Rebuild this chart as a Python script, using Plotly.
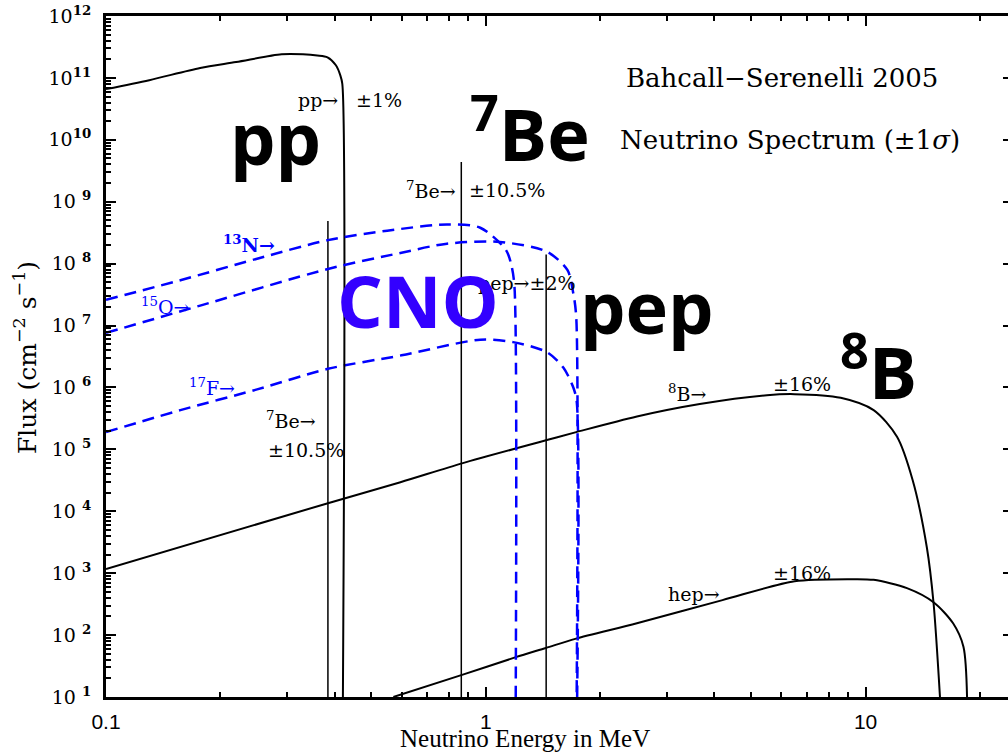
import plotly.graph_objects as go

# Solar neutrino spectra (BS05). Continuum sources in cm^-2 s^-1 MeV^-1,
# line sources in cm^-2 s^-1. Energies in MeV.
pp_energy = [0.1, 0.13, 0.177, 0.22, 0.29, 0.33, 0.36, 0.383, 0.403, 0.414, 0.419, 0.4205]
pp_flux = [6.6e10, 9.2e10, 1.45e11, 1.8e11, 2.4e11, 2.4e11, 2.3e11, 2.15e11, 1.6e11, 1.1e11, 8e10, 10]

n13_energy = [0.1, 0.157, 0.25, 0.384, 0.55, 0.79, 0.967, 1.13, 1.17, 1.19, 1.199]
n13_flux = [2.6e7, 5.4e7, 1.2e8, 2.4e8, 3.4e8, 4.3e8, 3.8e8, 1.66e8, 9e7, 4.2e7, 10]

o15_energy = [0.1, 0.177, 0.384, 0.6, 0.79, 1.09, 1.45, 1.64, 1.70, 1.73, 1.735]
o15_flux = [7.6e6, 2.1e7, 8.2e7, 1.5e8, 2.1e8, 2.24e8, 1.55e8, 7.9e7, 3.3e7, 1.4e7, 10]

f17_energy = [0.1, 0.157, 0.25, 0.384, 0.6, 0.967, 1.18, 1.45, 1.6, 1.70, 1.735, 1.74]
f17_flux = [1.9e5, 4.3e5, 9.3e5, 2.0e6, 3.3e6, 5.9e6, 5.4e6, 3.7e6, 2.1e6, 1.0e6, 6e5, 10]

b8_energy = [0.1, 0.384, 0.596, 0.87, 1.44, 1.73, 2.5, 3.66, 5.5, 6.5, 8.6, 10.5, 12.1, 13.3, 14.5, 15.1, 15.7]
b8_flux = [1.17e3, 1.35e4, 2.95e4, 6.0e4, 1.4e5, 1.9e5, 3.4e5, 5.4e5, 7.5e5, 7.8e5, 6.8e5, 4.3e5, 1.6e5, 3.2e4, 2.6e3, 330, 10]

hep_energy = [0.571, 0.87, 1.2, 1.44, 1.72, 2.5, 4.2, 6.5, 9.3, 10.5, 12.85, 15.1, 17.0, 18.1, 18.5]
hep_flux = [10, 23, 44, 62, 87, 155, 367, 740, 800, 780, 575, 340, 155, 65, 10]

# monoenergetic lines: 7Be (0.384, 0.862) and pep (1.442)
line_energy = [0.384, 0.862, 1.442]
line_flux = [4.9e8, 4.4e9, 1.4e8]
floor_flux = 10

y_exponents = list(range(1, 13))
x_tick_values = [0.1, 1, 10]
x_tick_labels = ["0.1", "1", "10"]

BLUE = "#0000ff"
BLACK = "#000000"
SERIF = "DejaVu Serif"
BOLD_SANS = "Open Sans"

# plot-area geometry (pixels) used to place text labels
L, R, T, B = 106, 1008, 16, 697
X_RANGE = [-1, 1.375]
Y_RANGE = [1, 12]


def at(px, py):
    return (px - L) / (R - L), (B - py) / (B - T)


fig = go.Figure()

solid = dict(color=BLACK, width=2)
dashed = dict(color=BLUE, width=2.5, dash="12px,7px")
smooth = dict(shape="spline", smoothing=0.8)

# All axes share identical ranges; the overlay axes only carry tick marks,
# so each curve may sit on whichever overlay pair keeps those axes alive.
line_axes = [("x", "y"), ("x2", "y"), ("x3", "y")]
for (e, f), (xa, ya) in zip(zip(line_energy, line_flux), line_axes):
    fig.add_trace(go.Scatter(x=[e, e], y=[f, floor_flux], mode="lines", xaxis=xa, yaxis=ya,
                             line=dict(color=BLACK, width=1.5)))

cno = [(n13_energy, n13_flux, "x4", "y"), (o15_energy, o15_flux, "x5", "y"),
       (f17_energy, f17_flux, "x", "y2")]
for xs, ys, xa, ya in cno:
    fig.add_trace(go.Scatter(x=xs, y=ys, mode="lines", xaxis=xa, yaxis=ya,
                             line=dict(**smooth, **dashed)))

continua = [(pp_energy, pp_flux, "x", "y3"), (b8_energy, b8_flux, "x", "y4"),
            (hep_energy, hep_flux, "x", "y")]
for xs, ys, xa, ya in continua:
    fig.add_trace(go.Scatter(x=xs, y=ys, mode="lines", xaxis=xa, yaxis=ya,
                             line=dict(**smooth, **solid)))


def ylab(k):
    gap = "" if k >= 10 else " "
    return f"10{gap}<sup><b>{k}</b></sup>"


minor_x = [m * 10 ** k for k in range(-1, 2) for m in range(2, 10) if m * 10 ** k < 10 ** X_RANGE[1]]
minor_y = [m * 10 ** k for k in range(1, 12) for m in range(2, 10)]
major_y = [10 ** k for k in y_exponents]


def tick_axis(kind, overlay, side, vals, length):
    d = dict(type="log", range=X_RANGE if kind == "x" else Y_RANGE,
             overlaying=overlay, side=side, automargin=False,
             tickmode="array", tickvals=vals,
             ticks="inside", ticklen=length, tickwidth=1.5, tickcolor=BLACK,
             showticklabels=False, showline=False, showgrid=False, zeroline=False)
    if kind == "x":
        d["anchor"] = "y"
    else:
        d["anchor"] = "x"
    return d


fig.update_layout(
    width=1008, height=752,
    margin=dict(l=L, r=1008 - R, t=T, b=752 - B),
    paper_bgcolor="white", plot_bgcolor="white",
    showlegend=False,
    xaxis=dict(
        type="log", range=X_RANGE, automargin=False,
        tickmode="array", tickvals=x_tick_values, ticktext=x_tick_labels, ticks="",
        showline=True, linewidth=3, linecolor=BLACK, mirror=True,
        showgrid=False, zeroline=False,
        tickfont=dict(family="Liberation Sans", size=21, color=BLACK),
        ticklabelstandoff=4,
    ),
    yaxis=dict(
        type="log", range=Y_RANGE, automargin=False,
        tickmode="array", tickvals=major_y, ticktext=[ylab(k) for k in y_exponents], ticks="",
        showline=True, linewidth=3, linecolor=BLACK,
        showgrid=False, zeroline=False,
        tickfont=dict(family=SERIF, size=19, color=BLACK),
        ticklabelstandoff=8,
    ),
    xaxis2=tick_axis("x", "x", "bottom", x_tick_values, 10),
    xaxis3=tick_axis("x", "x", "bottom", minor_x, 5),
    xaxis4=tick_axis("x", "x", "top", x_tick_values, 10),
    xaxis5=tick_axis("x", "x", "top", minor_x, 5),
    yaxis2=tick_axis("y", "y", "left", major_y, 10),
    yaxis3=tick_axis("y", "y", "left", minor_y, 5),
    yaxis4=tick_axis("y", "y", "right", major_y, 5),
)


def label(text, px, py, size=19, color=BLACK, family=SERIF, anchor="center", angle=0):
    x, y = at(px, py)
    fig.add_annotation(text=text, x=x, y=y, xref="paper", yref="paper",
                       xanchor=anchor, yanchor="middle", showarrow=False,
                       textangle=angle, font=dict(family=family, size=size, color=color))


# titles and source tags
label("Bahcall\u2212Serenelli 2005", 782, 78, size=26)
label("Neutrino Spectrum (\u00b11<i>\u03c3</i>)", 790, 140, size=26)

label("pp\u2192", 340, 100, anchor="right")
label("\u00b11%", 354, 100, anchor="left")
label("<sup>7</sup>Be\u2192", 458, 190, anchor="right")
label("\u00b110.5%", 467, 190, anchor="left")
label("<sup>7</sup>Be\u2192", 264, 420, anchor="left")
label("\u00b110.5%", 266, 450, anchor="left")
label("pep\u2192\u00b12%", 476, 283, anchor="left")
label("<sup>8</sup>B\u2192", 666, 393, anchor="left")
label("\u00b116%", 771, 384, anchor="left")
label("hep\u2192", 666, 594, anchor="left")
label("\u00b116%", 771, 573, anchor="left")

label("<b><sup>13</sup>N\u2192</b>", 221, 244, color=BLUE, anchor="left")
label("<sup>15</sup>O\u2192", 139, 306, color=BLUE, anchor="left")
label("<sup>17</sup>F\u2192", 187, 387, color=BLUE, anchor="left")

# large source names
label("<b>pp</b>", 275, 137, size=72, family=BOLD_SANS)
label("<b><sup>7</sup>Be</b>", 530, 130, size=72, family=BOLD_SANS)
label("<b>CNO</b>", 418, 300, size=72, family=BOLD_SANS, color="#3300ff")
label("<b>pep</b>", 647, 306, size=72, family=BOLD_SANS)
label("<b><sup>8</sup>B</b>", 878, 367, size=72, family=BOLD_SANS)

# axis titles
label("Neutrino Energy in MeV", 525, 738, size=25, family="Liberation Serif")
label("Flux (cm<sup>\u22122</sup> s<sup>\u22121</sup>)", 25, 358, size=25, angle=-90)

fig.write_html("out.html")
